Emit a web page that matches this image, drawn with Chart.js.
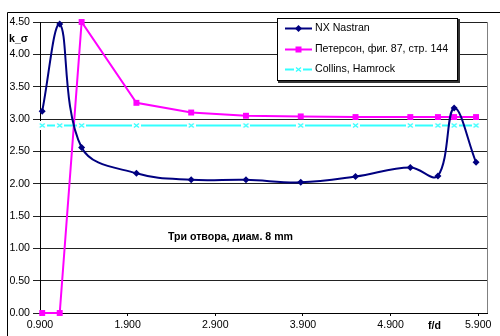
<!DOCTYPE html>
<html>
<head>
<meta charset="utf-8">
<script src="https://cdn.jsdelivr.net/npm/chart.js@4/dist/chart.umd.min.js"></script>
<style>
  html, body { margin: 0; padding: 0; background: #fff; }
  canvas { display: block; }
</style>
</head>
<body>
<canvas id="c" width="500" height="336"></canvas>
<script>
// f/d positions shared by all three series
const fd = [0.925, 1.125, 1.375, 2.0, 2.625, 3.25, 3.875, 4.5, 5.125, 5.44, 5.625, 5.875];
// stress concentration factor k_σ
const nxNastran = [3.12, 4.47, 2.56, 2.16, 2.06, 2.06, 2.02, 2.11, 2.25, 2.12, 3.17, 2.33];
const peterson  = [0, 0, 4.5, 3.25, 3.1, 3.05, 3.04, 3.03, 3.03, 3.03, 3.03, 3.03];
const collins   = [2.9, 2.9, 2.9, 2.9, 2.9, 2.9, 2.9, 2.9, 2.9, 2.9, 2.9, 2.9];

const seriesNames = ['NX Nastran', 'Петерсон, фиг. 87, стр. 144', 'Collins, Hamrock'];
const xTicks = [0.9, 1.9, 2.9, 3.9, 4.9, 5.9];
const yTicks = [0, 0.5, 1, 1.5, 2, 2.5, 3, 3.5, 4, 4.5];
const yTitle = 'k_σ';
const xTitle = 'f/d';
const note = 'Три отвора, диам. 8 mm';

const FONT = "'Liberation Sans', Arial, sans-serif";
const NAVY = '#000080', MAGENTA = '#FF00FF', CYAN = '#33FFFF';

// "x" marker on a small white tile so the line breaks around it
function crossMarker() {
  const c = document.createElement('canvas');
  c.width = 9; c.height = 9;
  const g = c.getContext('2d');
  g.fillStyle = '#fff';
  g.fillRect(0, 0, 9, 9);
  g.strokeStyle = CYAN;
  g.lineWidth = 1.3;
  g.beginPath();
  g.moveTo(2, 2.5); g.lineTo(7, 6.5);
  g.moveTo(7, 2.5); g.lineTo(2, 6.5);
  g.stroke();
  return c;
}
const xMark = crossMarker();

const toPts = ys => fd.map((x, i) => ({ x, y: ys[i] }));

const decorations = {
  id: 'decorations',
  afterDraw(chart) {
    const { ctx, chartArea: a, scales } = chart;
    ctx.save();
    // outer chart frame
    ctx.strokeStyle = '#000';
    ctx.lineWidth = 1;
    ctx.beginPath();
    ctx.moveTo(7.5, 336); ctx.lineTo(7.5, 12.5); ctx.lineTo(500, 12.5);
    ctx.stroke();
    // plot area right edge
    ctx.strokeStyle = '#808080';
    ctx.beginPath();
    ctx.moveTo(Math.round(a.right) + 0.5, a.top);
    ctx.lineTo(Math.round(a.right) + 0.5, a.bottom);
    ctx.stroke();

    // axis titles and note
    ctx.fillStyle = '#000';
    ctx.font = 'bold 10.6px ' + FONT;
    ctx.textBaseline = 'middle';
    ctx.textAlign = 'left';
    ctx.fillText(yTitle, 9, 39);
    ctx.textAlign = 'center';
    ctx.fillText(xTitle, scales.x.getPixelForValue(5.4), 326);
    ctx.textAlign = 'left';
    ctx.fillText(note, scales.x.getPixelForValue(2.36), scales.y.getPixelForValue(1.18));

    // legend box with a light drop shadow
    const lx = 277, ly = 18, lw = 181, lh = 63;
    ctx.fillStyle = '#333';
    ctx.fillRect(lx + 1, ly + 1, lw + 1, lh + 1);
    ctx.fillStyle = '#fff';
    ctx.fillRect(lx, ly, lw, lh);
    ctx.strokeStyle = '#000';
    ctx.strokeRect(lx + 0.5, ly + 0.5, lw - 1, lh - 1);

    const rows = [28.5, 49.5, 69.5];
    const x0 = 285, x1 = 312, xm = 298.5;
    chart.data.datasets.forEach((ds, i) => {
      const y = rows[i];
      ctx.strokeStyle = ds.borderColor;
      ctx.lineWidth = 2;
      ctx.beginPath();
      if (i === 2) {
        ctx.moveTo(x0, y); ctx.lineTo(xm - 4.5, y);
        ctx.moveTo(xm + 4.5, y); ctx.lineTo(x1, y);
      } else {
        ctx.moveTo(x0, y); ctx.lineTo(x1, y);
      }
      ctx.stroke();
      if (i === 0) {
        ctx.fillStyle = NAVY;
        ctx.beginPath();
        ctx.moveTo(xm, y - 3.5); ctx.lineTo(xm + 3.5, y);
        ctx.lineTo(xm, y + 3.5); ctx.lineTo(xm - 3.5, y);
        ctx.closePath(); ctx.fill();
      } else if (i === 1) {
        ctx.fillStyle = MAGENTA;
        ctx.fillRect(xm - 3, y - 3, 6, 6);
      } else {
        ctx.drawImage(xMark, xm - 4.5, y - 4.5);
      }
      ctx.fillStyle = '#000';
      ctx.font = '10.6px ' + FONT;
      ctx.textAlign = 'left';
      ctx.textBaseline = 'middle';
      ctx.fillText(ds.label, 315, y);
    });
    ctx.restore();
  }
};

new Chart(document.getElementById('c'), {
  type: 'line',
  data: {
    datasets: [
      {
        label: seriesNames[0], data: toPts(nxNastran),
        borderColor: NAVY, backgroundColor: NAVY, borderWidth: 2,
        tension: 0.38, pointStyle: 'rectRot', pointRadius: 3.5, pointBorderWidth: 0,
        clip: false
      },
      {
        label: seriesNames[1], data: toPts(peterson),
        borderColor: MAGENTA, backgroundColor: MAGENTA, borderWidth: 2,
        tension: 0, pointStyle: 'rect', pointRadius: 4.2, pointBorderWidth: 0,
        clip: false
      },
      {
        label: seriesNames[2], data: toPts(collins),
        borderColor: CYAN, backgroundColor: CYAN, borderWidth: 2,
        tension: 0, pointStyle: xMark, pointRadius: 4.5,
        clip: false
      }
    ]
  },
  options: {
    responsive: false,
    animation: false,
    devicePixelRatio: 1,
    layout: { padding: { left: 0, right: 13, top: 22, bottom: 0 } },
    plugins: { legend: { display: false }, tooltip: { enabled: false } },
    scales: {
      x: {
        type: 'linear', min: 0.9, max: 6.0,
        afterBuildTicks: s => { s.ticks = xTicks.map(v => ({ value: v })); },
        afterFit: s => { s.height = 23; },
        grid: { drawOnChartArea: false, drawTicks: true, tickLength: 3, color: '#000' },
        border: { color: '#000', width: 1 },
        ticks: {
          autoSkip: false, maxRotation: 0, padding: 3,
          color: '#000', font: { family: FONT, size: 10.6 },
          callback: v => Number(v).toFixed(3)
        }
      },
      y: {
        type: 'linear', min: 0, max: 4.5,
        afterBuildTicks: s => { s.ticks = yTicks.map(v => ({ value: v })); },
        afterFit: s => { s.width = 40; },
        grid: { color: '#222', tickLength: 7, drawTicks: true },
        border: { color: '#000', width: 1 },
        ticks: {
          padding: 3, color: '#000', font: { family: FONT, size: 10.6 },
          callback: v => Number(v).toFixed(2)
        }
      }
    }
  },
  plugins: [decorations]
});
</script>
</body>
</html>
